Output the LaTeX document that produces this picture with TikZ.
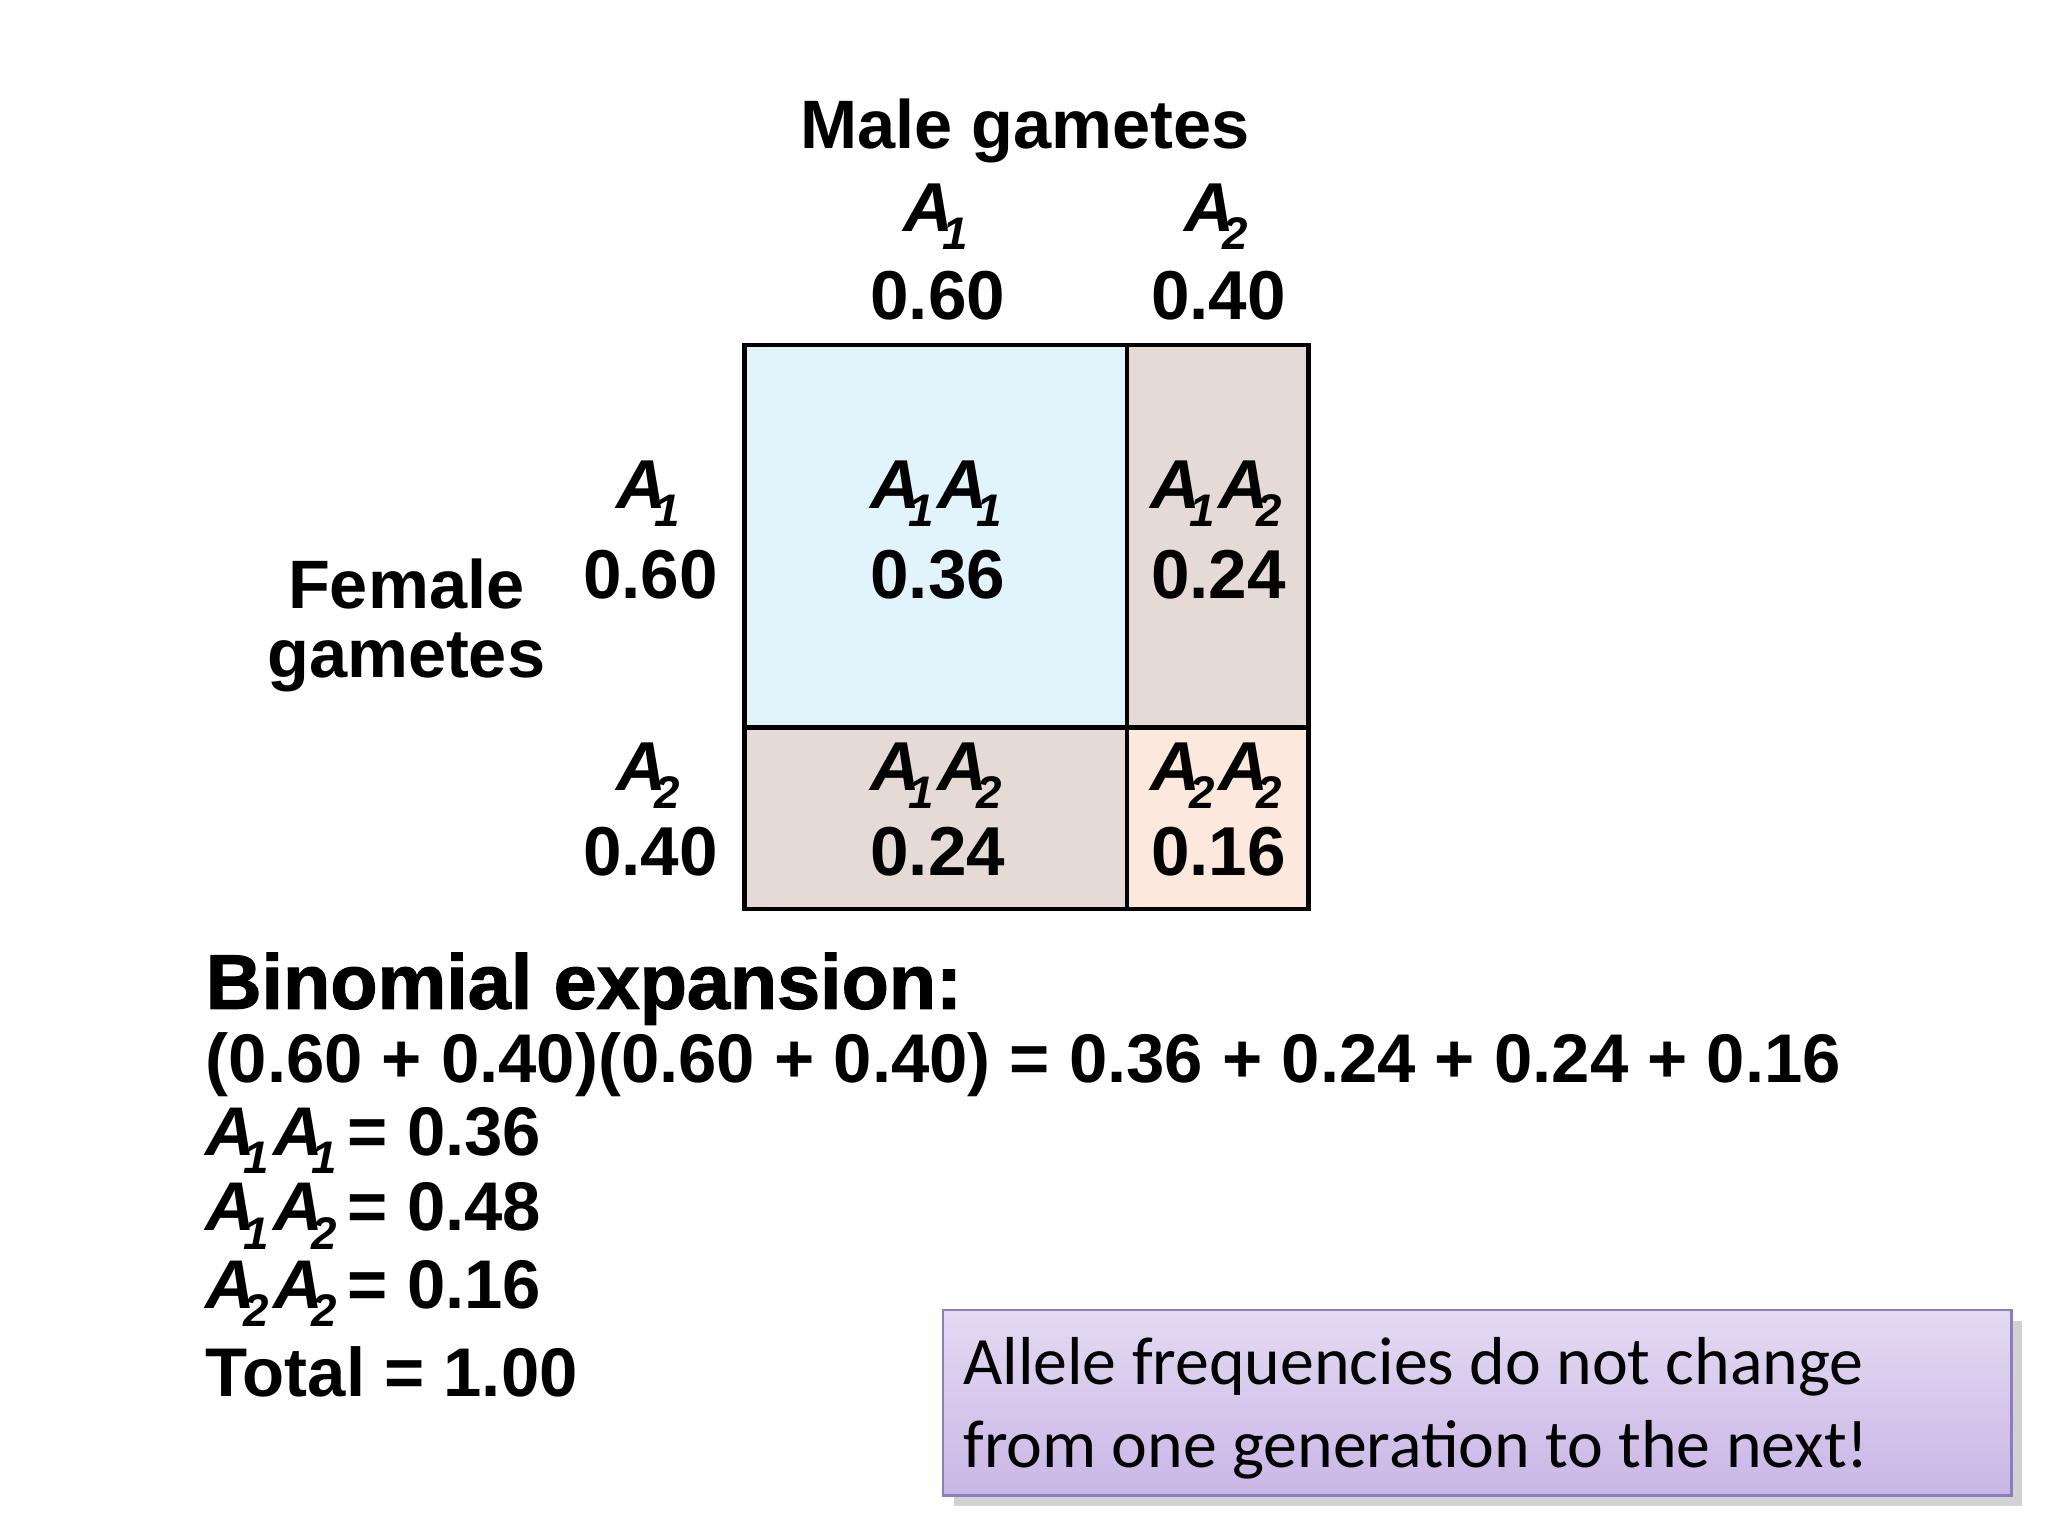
\documentclass[tikz,border=0pt]{standalone}
\usepackage{fontspec}
\setmainfont{Liberation Sans}
\newfontfamily\calib{Carlito}
\usetikzlibrary{shadows}
\definecolor{cblue}{HTML}{E1F3FB}
\definecolor{cpink}{HTML}{E6DAD6}
\definecolor{cpeach}{HTML}{FCE8DC}
\definecolor{lavtop}{HTML}{E4DAF2}
\definecolor{lavbot}{HTML}{C9B6E6}
\definecolor{lavbd}{HTML}{8C7DBF}
\newcommand{\Al}[1]{\textit{A}\kern-0.17em\raisebox{-0.5ex}{\fontsize{13}{13}\selectfont\textit{#1}}\kern0.06em}
\begin{document}
\begin{tikzpicture}[x=0.013061cm,y=-0.013061cm,
  lab/.style={font=\fontsize{19.7}{24}\selectfont\bfseries,inner sep=0pt},
  hd/.style={font=\fontsize{19.5}{22}\selectfont\bfseries,inner sep=0pt},
  eq/.style={font=\fontsize{19.6}{24}\selectfont\bfseries,inner sep=0pt,anchor=west}]
\useasboundingbox (0,0) rectangle (1568,1176);
\fill[white] (0,0) rectangle (1568,1176);
\fill[cblue] (570,264) rectangle (863,557);
\fill[cpink] (863,264) rectangle (1002,557);
\fill[cpink] (570,557) rectangle (863,696);
\fill[cpeach] (863,557) rectangle (1002,696);
\draw[line width=1.3pt] (570,264) rectangle (1002,696);
\draw[line width=1.3pt] (863,264) -- (863,696);
\draw[line width=1.3pt] (570,557) -- (1002,557);
\node[hd] (male) at (785,100) {Male gametes};
\node[lab] (ma1) at (718,166) {\Al{1}};
\node[lab] (mf1) at (718,226) {0.60};
\node[lab] (ma2) at (933,166) {\Al{2}};
\node[lab] (mf2) at (933,226) {0.40};
\node[lab] (fa1) at (498,378) {\Al{1}};
\node[lab] (ff1) at (498,440) {0.60};
\node[lab] (fa2) at (498,594) {\Al{2}};
\node[lab] (ff2) at (498,652) {0.40};
\node[hd] (fem) at (311,447) {Female};
\node[hd] (gam) at (311,507) {gametes};
\node[lab] (c11) at (718,378) {\Al{1}\Al{1}};
\node[lab] (v11) at (718,440) {0.36};
\node[lab] (c12) at (933,378) {\Al{1}\Al{2}};
\node[lab] (v12) at (933,440) {0.24};
\node[lab] (c21) at (718,594) {\Al{1}\Al{2}};
\node[lab] (v21) at (718,652) {0.24};
\node[lab] (c22) at (933,594) {\Al{2}\Al{2}};
\node[lab] (v22) at (933,652) {0.16};
\node[eq,font=\fontsize{22}{24}\selectfont\bfseries\addfontfeature{FakeBold=1.5}] (be) at (157,757) {Binomial expansion:};
\node[eq] (l1) at (157,815) {(0.60 + 0.40)(0.60 + 0.40) = 0.36 + 0.24 + 0.24 + 0.16};
\node[eq] (l2) at (157,873) {\Al{1}\Al{1}\kern0.1em= 0.36};
\node[eq] (l3) at (157,931) {\Al{1}\Al{2}\kern0.1em= 0.48};
\node[eq] (l4) at (157,990) {\Al{2}\Al{2}\kern0.1em= 0.16};
\node[eq] (l5) at (157,1050) {Total = 1.00};
\shade[top color=lavtop,bottom color=lavbot,draw=lavbd,line width=0.8pt,drop shadow={opacity=0.35,shadow xshift=3pt,shadow yshift=-3pt}] (722,1003) rectangle (1540,1145);
\node[anchor=west,inner sep=0pt,align=left,font=\calib\fontsize{19.3}{23.5}\selectfont] (box) at (737,1078) {Allele frequencies do not change\\from one generation to the next!};
\end{tikzpicture}
\end{document}
